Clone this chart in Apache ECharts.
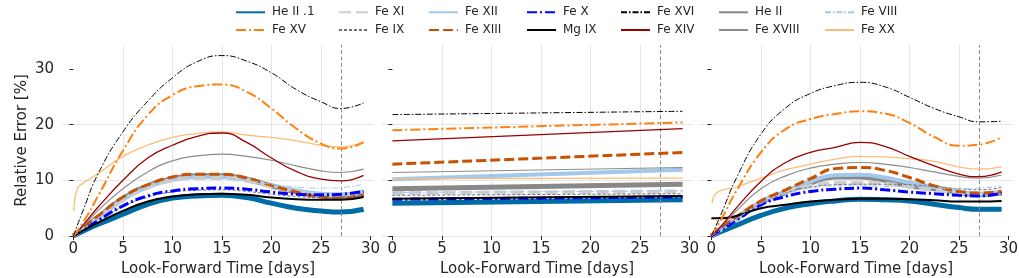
<!DOCTYPE html>
<html><head><meta charset="utf-8">
<script src="https://cdn.jsdelivr.net/npm/echarts@6/dist/echarts.min.js"></script>
<style>html,body{margin:0;padding:0;background:#fff}#c{width:1019px;height:278px}</style>
</head><body><div id="c"></div>
<script>
// ---- time axes (days) ----
const T = [0, 1, 2.5, 5, 7.5, 10, 12.5, 15, 17.5, 20, 22.5, 25, 27, 29.3];
const T_XX = [0.05, 0.4, 1, 2.5, 5, 7.5, 10, 12.5, 15, 17.5, 20, 22.5, 25, 27, 29.3];
const T_MID = [0, 29.3];
const X_TICKS = [0, 5, 10, 15, 20, 25, 30];
const Y_TICKS = [0, 10, 20, 30];
const MARK_DAY = 27;

// ---- left panel (relative error %) ----
const L_HeII_1  = [0, 0.9, 2.1, 3.9, 5.7, 6.8, 7.2, 7.3, 6.9, 5.9, 5.0, 4.5, 4.3, 4.8];
const L_FeXV    = [0, 2.5, 7.2, 15.3, 21.7, 25.3, 26.9, 27.2, 25.9, 22.9, 19.3, 16.6, 15.7, 16.8];
const L_FeXI    = [0, 1.3, 3.2, 6.4, 8.7, 10.0, 10.4, 10.4, 9.9, 8.9, 8.0, 7.4, 7.3, 7.7];
const L_FeIX    = [0, 1.1, 2.7, 5.3, 7.0, 7.9, 8.2, 8.3, 8.0, 7.5, 7.1, 6.9, 7.0, 7.4];
const L_FeXII   = [0, 1.3, 3.3, 6.5, 8.8, 10.1, 10.6, 10.6, 10.1, 9.1, 8.2, 7.6, 7.5, 8.0];
const L_FeXIII  = [0, 1.5, 3.6, 7.0, 9.2, 10.6, 11.1, 11.1, 10.4, 9.1, 7.9, 7.0, 6.8, 7.4];
const L_FeX     = [0, 1.1, 2.8, 5.4, 7.2, 8.1, 8.5, 8.6, 8.4, 7.9, 7.5, 7.4, 7.5, 8.0];
const L_MgIX    = [0, 1.0, 2.4, 4.5, 6.2, 7.1, 7.5, 7.6, 7.4, 6.9, 6.6, 6.5, 6.5, 7.0];
const L_FeXVI   = [0, 4.7, 11.2, 18.7, 24.2, 28.4, 31.3, 32.4, 31.4, 29.3, 26.3, 24.1, 22.9, 23.9];
const L_FeXIV   = [0, 2.0, 5.2, 10.0, 14.0, 16.3, 17.9, 18.5, 16.8, 14.0, 11.6, 10.2, 9.9, 10.9];
const L_HeII    = [0, 1.4, 3.4, 6.7, 9.0, 10.3, 10.8, 10.8, 10.2, 9.0, 7.9, 7.3, 7.1, 7.5];
const L_FeXVIII = [0, 1.8, 4.6, 8.5, 11.5, 13.5, 14.4, 14.7, 14.3, 13.6, 12.6, 11.7, 11.4, 12.0];
const L_FeVIII  = [0, 1.3, 3.3, 6.5, 8.9, 10.0, 10.5, 10.4, 10.0, 9.3, 8.8, 8.6, 8.7, 9.3];
const L_FeXX    = [4.5, 8.5, 9.5, 11.2, 14.3, 16.3, 17.7, 18.4, 18.7, 18.1, 17.7, 17.1, 16.3, 16.0, 16.9];

// ---- middle panel ----
const M_HeII_1  = [5.9, 6.5];
const M_FeXV    = [19.0, 20.4];
const M_FeXI    = [7.7, 8.0];
const M_FeIX    = [7.3, 7.6];
const M_FeXII   = [10.2, 11.9];
const M_FeXIII  = [12.9, 15.0];
const M_FeX     = [6.6, 7.0];
const M_MgIX    = [6.7, 7.2];
const M_FeXVI   = [21.8, 22.4];
const M_FeXIV   = [17.1, 19.3];
const M_HeII    = [8.5, 9.3];
const M_FeXVIII = [11.4, 12.3];
const M_FeVIII  = [7.8, 8.1];
const M_FeXX    = [10.3, 10.4];

// ---- right panel ----
const R_HeII_1  = [0, 0.8, 1.9, 3.7, 5.0, 5.8, 6.3, 6.6, 6.5, 6.3, 5.7, 5.1, 4.8, 4.8];
const R_FeXV    = [0, 3.0, 8.0, 15.0, 19.2, 21.0, 21.9, 22.4, 22.0, 20.3, 17.8, 16.2, 16.4, 17.7];
const R_FeXI    = [0, 1.2, 3.0, 5.8, 7.7, 9.0, 9.5, 9.5, 9.4, 8.8, 8.3, 7.8, 7.5, 7.8];
const R_FeIX    = [0, 1.2, 3.0, 5.8, 7.7, 8.8, 9.2, 9.3, 9.3, 9.2, 8.9, 8.5, 8.3, 8.7];
const R_FeXII   = [0, 1.3, 3.1, 6.0, 8.0, 9.8, 10.9, 11.0, 10.5, 9.6, 8.8, 8.0, 7.6, 8.0];
const R_FeXIII  = [0, 1.4, 3.4, 6.3, 8.3, 10.3, 12.1, 12.3, 11.8, 10.5, 9.0, 8.0, 7.7, 8.0];
const R_FeX     = [0, 1.1, 2.8, 5.6, 7.1, 8.0, 8.4, 8.6, 8.3, 7.9, 7.6, 7.3, 7.2, 7.7];
const R_MgIX    = [3.2, 3.2, 3.6, 5.0, 5.6, 6.2, 6.5, 6.7, 6.7, 6.6, 6.4, 6.2, 6.2, 6.3];
const R_FeXVI   = [0, 4.0, 10.3, 18.3, 23.0, 25.6, 27.0, 27.6, 26.8, 24.9, 22.9, 21.4, 20.5, 20.6];
const R_FeXIV   = [0, 1.8, 5.0, 9.8, 13.2, 15.0, 15.9, 16.8, 16.1, 14.3, 12.6, 11.1, 10.65, 11.5];
const R_HeII    = [0, 1.3, 3.1, 6.0, 7.8, 9.5, 10.6, 10.6, 10.0, 9.0, 8.5, 7.8, 7.4, 7.7];
const R_FeXVIII = [0, 1.7, 4.5, 8.5, 10.8, 12.2, 12.9, 13.2, 12.9, 12.3, 11.5, 10.7, 10.4, 10.95];
const R_FeVIII  = [0, 1.2, 3.0, 5.8, 7.6, 8.6, 9.0, 9.0, 8.9, 8.8, 8.6, 8.5, 8.6, 9.0];
const R_FeXX    = [5.9, 7.5, 8.2, 8.8, 10.4, 11.9, 12.9, 13.8, 14.3, 14.2, 13.9, 13.4, 12.4, 12.0, 12.4];

// legend columns (matplotlib ncol=7 layout)
const LEGEND_COLS = [
  ['He II .1', 'Fe XV'], ['Fe XI', 'Fe IX'], ['Fe XII', 'Fe XIII'], ['Fe X', 'Mg IX'],
  ['Fe XVI', 'Fe XIV'], ['He II', 'Fe XVIII'], ['Fe VIII', 'Fe XX']
];

const FONT = "'DejaVu Sans', sans-serif";
const TXT = '#262626';

const SERIES = [
  {name:'He II .1', d:[L_HeII_1, M_HeII_1, R_HeII_1], color:'#006BA4', w:5, type:'solid'},
  {name:'He II',    d:[L_HeII, M_HeII, R_HeII],       color:'#888888', w:5, type:'solid'},
  {name:'Fe XII',   d:[L_FeXII, M_FeXII, R_FeXII],    color:'#A2C8EC', w:4, type:'solid'},
  {name:'Fe XI',    d:[L_FeXI, M_FeXI, R_FeXI],       color:'#CFCFCF', w:4, type:[12,5]},
  {name:'Fe XIII',  d:[L_FeXIII, M_FeXIII, R_FeXIII], color:'#C85200', w:3, type:[10,4]},
  {name:'Fe IX',    d:[L_FeIX, M_FeIX, R_FeIX],       color:'#707070', w:1, type:[3,2]},
  {name:'Fe X',     d:[L_FeX, M_FeX, R_FeX],          color:'#0000FF', w:3, type:[10,3,2,3]},
  {name:'Mg IX',    d:[L_MgIX, M_MgIX, R_MgIX],       color:'#000000', w:2, type:'solid'},
  {name:'Fe VIII',  d:[L_FeVIII, M_FeVIII, R_FeVIII], color:'#A2C8EC', w:1, type:[6,2,1.5,2]},
  {name:'Fe XVIII', d:[L_FeXVIII, M_FeXVIII, R_FeXVIII], color:'#8c8c8c', w:1.2, type:'solid'},
  {name:'Fe XX',    d:[L_FeXX, M_FeXX, R_FeXX], t:[T_XX, T_MID, T_XX], color:'#FFBC79', w:1.3, type:'solid'},
  {name:'Fe XIV',   d:[L_FeXIV, M_FeXIV, R_FeXIV],    color:'#990000', w:1.3, type:'solid'},
  {name:'Fe XV',    d:[L_FeXV, M_FeXV, R_FeXV],       color:'#FF800E', w:2, type:[10,3,2,3]},
  {name:'Fe XVI',   d:[L_FeXVI, M_FeXVI, R_FeXVI],    color:'#000000', w:1, type:[6,2,1.5,2]}
];

const GRID_LEFT = [62, 381, 700];
const GRID_W = 312;

const grids = GRID_LEFT.map(l => ({left:l, width:GRID_W, top:45, height:191, outerBoundsMode:'none', containLabel:false}));

const xAxes = GRID_LEFT.map((_, i) => ({
  type:'value', gridIndex:i, min:-1.15, max:30.35, minInterval:5, maxInterval:5,
  axisLine:{show:false},
  axisTick:{show:true, length:4, customValues:X_TICKS, lineStyle:{color:TXT, width:1}},
  axisLabel:{customValues:X_TICKS, margin:6, fontSize:15, color:TXT, fontFamily:FONT},
  splitLine:{show:true, showMinLine:false, showMaxLine:false, lineStyle:{color:'#e6e6e6', width:1}},
  name:'Look-Forward Time [days]', nameLocation:'middle', nameGap:23,
  nameTextStyle:{fontSize:15, color:TXT, fontFamily:FONT}
}));

const yAxes = GRID_LEFT.map((_, i) => ({
  type:'value', gridIndex:i, min:0, max:34.3, minInterval:10, maxInterval:10,
  axisLine:{show:false},
  axisTick:{show:true, length:4, customValues:Y_TICKS, lineStyle:{color:TXT, width:1}},
  axisLabel:{show:i===0, customValues:Y_TICKS, margin:8, fontSize:15, color:TXT, fontFamily:FONT},
  splitLine:{show:true, showMaxLine:false, lineStyle:{color:'#e6e6e6', width:1}},
  name: i===0 ? 'Relative Error [%]' : '', nameLocation:'middle', nameRotate:90, nameGap:32,
  nameTextStyle:{fontSize:15, color:TXT, fontFamily:FONT}
}));

const series = [];
for (let p = 0; p < 3; p++) {
  SERIES.forEach((s, k) => {
    const times = s.t ? s.t[p] : (p === 1 ? T_MID : T);
    const vals = s.d[p];
    const obj = {
      type:'line', name:s.name, xAxisIndex:p, yAxisIndex:p,
      data: times.map((t, i) => [t, vals[i]]),
      symbol:'none', showSymbol:false, smooth:0.5,
      color:s.color,
      lineStyle:{color:s.color, width:s.w, type:s.type, cap:'butt'},
      z: 2 + k, silent:true, animation:false
    };
    if (k === SERIES.length - 1) {
      obj.markLine = {
        silent:true, symbol:'none', animation:false,
        label:{show:false},
        lineStyle:{color:'#8c8c8c', width:1, type:[4,2.5]},
        data:[{xAxis:MARK_DAY}]
      };
    }
    series.push(obj);
  });
}

const COL_LEFT = [235, 338, 428, 526, 620, 718, 824];
const legends = LEGEND_COLS.map((pair, i) => ({
  data: pair, orient:'vertical', left:COL_LEFT[i], top:5.3, padding:0,
  itemWidth:29, itemHeight:14, itemGap:3.7, selectedMode:false,
  itemStyle:{color:'rgba(0,0,0,0)', borderWidth:0, opacity:0},
  textStyle:{fontSize:12, color:TXT, fontFamily:FONT, lineHeight:14, padding:[0,0,0,2]}
}));

const chart = echarts.init(document.getElementById('c'), null, {renderer:'canvas'});
chart.setOption({
  animation:false,
  backgroundColor:'#ffffff',
  textStyle:{fontFamily:FONT},
  grid:grids, xAxis:xAxes, yAxis:yAxes, legend:legends, series:series
});
</script></body></html>
